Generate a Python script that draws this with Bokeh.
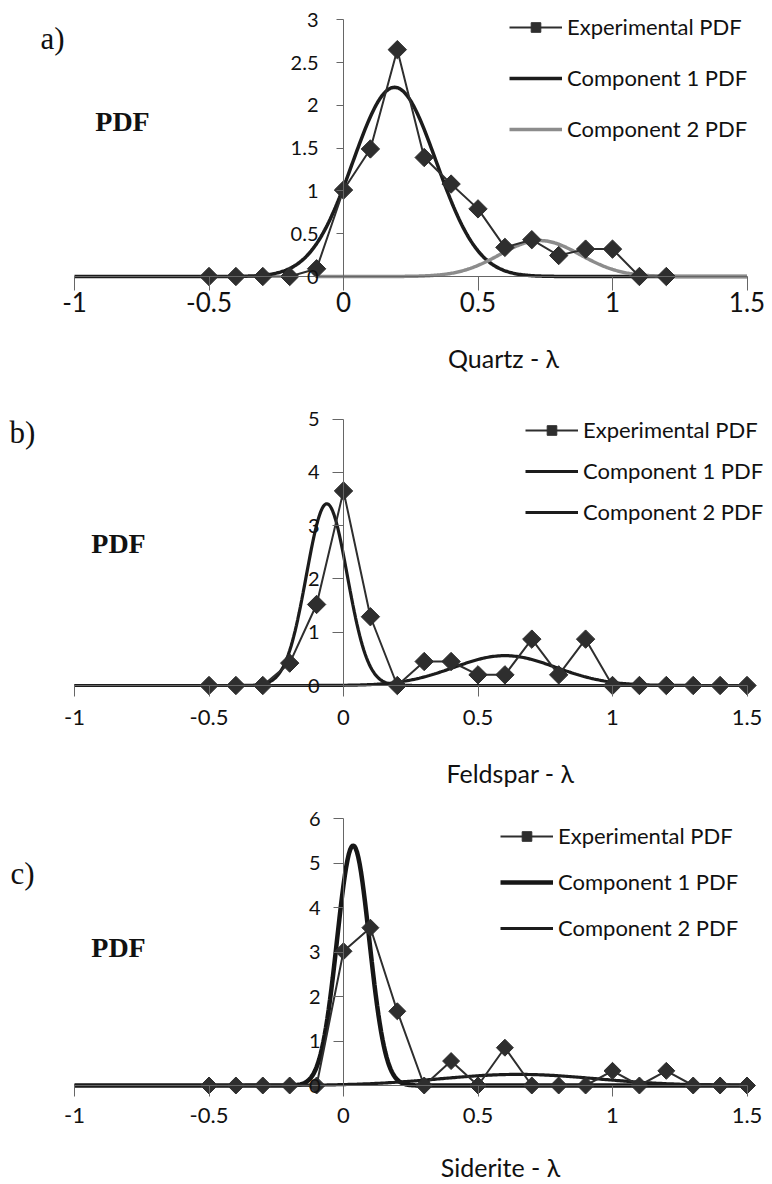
import numpy as np
from bokeh.plotting import figure
from bokeh.models import (LinearAxis, FixedTicker, Range1d, Legend, LegendItem,
                          Label, CustomJSTickFormatter, ColumnDataSource)
from bokeh.layouts import column
from bokeh.embed import file_html
from bokeh.resources import INLINE

# ---- data -------------------------------------------------------------
lam_quartz = [-0.5, -0.4, -0.3, -0.2, -0.1, 0.0, 0.1, 0.2, 0.3, 0.4, 0.5,
              0.6, 0.7, 0.8, 0.9, 1.0, 1.1, 1.2]
pdf_quartz = [0, 0, 0, 0, 0.09, 1.01, 1.49, 2.65, 1.39, 1.08, 0.79,
              0.34, 0.43, 0.245, 0.32, 0.32, 0, 0]

lam_feldspar = [-0.5, -0.4, -0.3, -0.2, -0.1, 0.0, 0.1, 0.2, 0.3, 0.4, 0.5,
                0.6, 0.7, 0.8, 0.9, 1.0, 1.1, 1.2, 1.3, 1.4, 1.5]
pdf_feldspar = [0, 0, 0, 0.42, 1.52, 3.65, 1.29, 0, 0.45, 0.45, 0.2,
                0.2, 0.87, 0.2, 0.87, 0, 0, 0, 0, 0, 0]

lam_siderite = [-0.5, -0.4, -0.3, -0.2, -0.1, 0.0, 0.1, 0.2, 0.3, 0.4, 0.5,
                0.6, 0.7, 0.8, 0.9, 1.0, 1.1, 1.2, 1.3, 1.4, 1.5]
pdf_siderite = [0, 0, 0, 0, 0, 3.02, 3.55, 1.67, 0, 0.55, 0,
                0.85, 0, 0, 0, 0.33, 0, 0.33, 0, 0, 0]

# fitted normal components: [component 1, component 2]
quartz_peak, quartz_mean, quartz_sd = [2.21, 0.42], [0.19, 0.73], [0.155, 0.15]
feldspar_peak, feldspar_mean, feldspar_sd = [3.41, 0.56], [-0.062, 0.60], [0.076, 0.19]
siderite_peak, siderite_mean, siderite_sd = [5.4, 0.25], [0.036, 0.65], [0.06, 0.29]

x_ticks = [-1, -0.5, 0, 0.5, 1, 1.5]
legend_labels = ["Experimental PDF", "Component 1 PDF", "Component 2 PDF"]

W = 772
X0_PX = 343.0      # screen position of lambda = 0
X_SCALE = 269.0    # px per unit of lambda

EXP_COLOR = "#2e2e2e"
AXIS_COLOR = "#666666"
FONT = "Lato"


def normal_curve(xs, peak, mean, sd):
    return peak * np.exp(-0.5 * ((xs - mean) / sd) ** 2)


def panel(H, zero_px, y_scale, y_max, y_step, lam, pdf, peaks, means, sds,
          comp_colors, comp_widths, comp2_start, marker_size,
          tag, tag_xy, pdf_xy, title, title_xy,
          xlab_size, xlab_standoff, xtick_out, ylab_size, ylab_standoff, ytick_out,
          leg_x, leg_top, leg_spacing):
    x_start = -X0_PX / X_SCALE
    x_end = (W - X0_PX) / X_SCALE
    y_end = zero_px / y_scale
    y_start = -(H - zero_px) / y_scale

    p = figure(width=W, height=H, output_backend="svg", toolbar_location=None,
               x_range=Range1d(x_start, x_end), y_range=Range1d(y_start, y_end),
               x_axis_location=None, y_axis_location=None, min_border=0,
               outline_line_color=None, background_fill_color="white")
    p.grid.visible = False

    fmt = CustomJSTickFormatter(code="return tick.toString();")

    xaxis = LinearAxis(fixed_location=0, bounds=(-1, 1.5),
                       ticker=FixedTicker(ticks=x_ticks), formatter=fmt,
                       major_tick_out=xtick_out, major_tick_in=0,
                       minor_tick_out=0, minor_tick_in=0,
                       axis_line_color=AXIS_COLOR, major_tick_line_color=AXIS_COLOR,
                       major_label_text_font=FONT,
                       major_label_text_font_size=xlab_size,
                       major_label_text_color="#111111",
                       major_label_standoff=xlab_standoff)
    p.add_layout(xaxis, "below")

    y_ticks = list(np.round(np.arange(0, y_max + 1e-9, y_step), 2))
    yaxis = LinearAxis(fixed_location=0, bounds=(0, y_max),
                       ticker=FixedTicker(ticks=y_ticks), formatter=fmt,
                       major_tick_out=ytick_out, major_tick_in=0,
                       minor_tick_out=0, minor_tick_in=0,
                       axis_line_color=AXIS_COLOR, major_tick_line_color=AXIS_COLOR,
                       major_label_text_font=FONT,
                       major_label_text_font_size=ylab_size,
                       major_label_text_color="#111111",
                       major_label_standoff=ylab_standoff)
    p.add_layout(yaxis, "left")

    # component curves
    xs1 = np.linspace(-1, 1.5, 501)
    xs2 = np.linspace(comp2_start, 1.5, 401)
    r_c1 = p.line(xs1, normal_curve(xs1, peaks[0], means[0], sds[0]),
                  line_color=comp_colors[0], line_width=comp_widths[0])
    r_c2 = p.line(xs2, normal_curve(xs2, peaks[1], means[1], sds[1]),
                  line_color=comp_colors[1], line_width=comp_widths[1])

    # experimental histogram PDF, diamonds as squares turned by 45 degrees
    src = ColumnDataSource(dict(x=lam, y=pdf, angle=[np.pi / 4] * len(lam)))
    r_el = p.line("x", "y", source=src, line_color=EXP_COLOR, line_width=2)
    r_em = p.scatter("x", "y", source=src, marker="square", angle="angle",
                     size=marker_size, fill_color=EXP_COLOR, line_color=EXP_COLOR)

    item_h = 24
    leg_height = 3 * item_h + 2 * leg_spacing
    legend = Legend(items=[LegendItem(label=legend_labels[0], renderers=[r_el, r_em], index=0),
                           LegendItem(label=legend_labels[1], renderers=[r_c1]),
                           LegendItem(label=legend_labels[2], renderers=[r_c2])],
                    location=(leg_x, H - (leg_top + leg_height)),
                    glyph_width=53, glyph_height=item_h, label_height=item_h,
                    label_standoff=5, spacing=leg_spacing, padding=0, margin=0,
                    border_line_color=None, background_fill_alpha=0,
                    label_text_font=FONT, label_text_font_size="22px",
                    label_text_color="#111111")
    p.add_layout(legend, "center")

    p.add_layout(Label(x=tag_xy[0], y=H - tag_xy[1], x_units="screen", y_units="screen",
                       text=tag, text_font="Liberation Serif", text_font_size="31px",
                       text_align="center", text_baseline="middle", text_color="#111111"))
    p.add_layout(Label(x=pdf_xy[0], y=H - pdf_xy[1], x_units="screen", y_units="screen",
                       text="PDF", text_font="Liberation Serif", text_font_size="28px",
                       text_font_style="bold", text_align="center",
                       text_baseline="middle", text_color="#111111"))
    p.add_layout(Label(x=title_xy[0], y=H - title_xy[1], x_units="screen", y_units="screen",
                       text=title, text_font=FONT, text_font_size="25px",
                       text_align="center", text_baseline="middle", text_color="#111111"))
    return p


pa = panel(380, 276, 85.6, 3, 0.5, lam_quartz, pdf_quartz,
           quartz_peak, quartz_mean, quartz_sd,
           ["#1c1c1c", "#8c8c8c"], [3.5, 3.5], -0.1, 13,
           "a)", (52, 38), (122, 121), "Quartz - λ", (503, 357),
           "26px", 1, 14, "20px", 18, 7,
           509, 22, 24)

pb = panel(420, 305, 53.3, 5, 1, lam_feldspar, pdf_feldspar,
           feldspar_peak, feldspar_mean, feldspar_sd,
           ["#1c1c1c", "#1c1c1c"], [3.2, 3.2], -1.0, 13,
           "b)", (22, 52), (118, 163), "Feldspar - λ", (510, 392),
           "22px", 13, 11, "20px", 13, 11,
           525, 45, 14)

pc = panel(384, 285, 44.45, 6, 1, lam_siderite, pdf_siderite,
           siderite_peak, siderite_mean, siderite_sd,
           ["#161616", "#1c1c1c"], [4.5, 3.2], -1.0, 12,
           "c)", (22, 73), (118, 147), "Siderite - λ", (500, 366),
           "22px", 11, 11, "20px", 13, 10,
           500, 31, 19)

layout = column(pa, pb, pc, spacing=0)
open("out.html", "w").write(file_html(layout, INLINE))
